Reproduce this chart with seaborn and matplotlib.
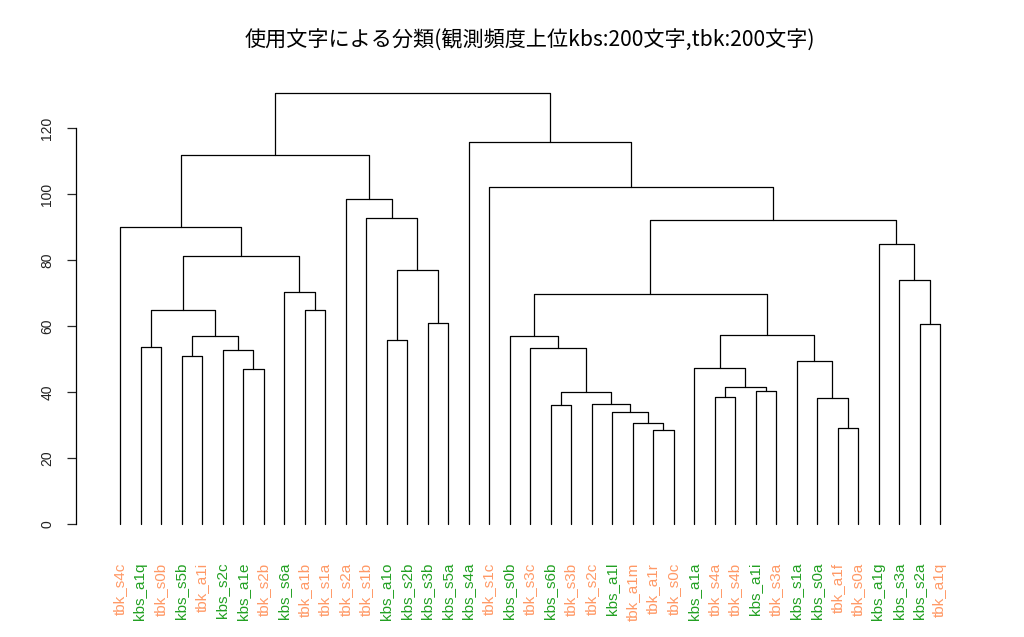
import matplotlib
matplotlib.use("Agg")
import matplotlib.pyplot as plt
import seaborn as sns
import pandas as pd

# ---- data ----
leaves = ["tbk_s4c", "kbs_a1q", "tbk_s0b", "kbs_s5b", "tbk_a1i", "kbs_s2c", "kbs_a1e",
          "tbk_s2b", "kbs_s6a", "tbk_a1b", "tbk_s1a", "tbk_s2a", "tbk_s1b", "kbs_a1o",
          "kbs_s2b", "kbs_s3b", "kbs_s5a", "kbs_s4a", "tbk_s1c", "kbs_s0b", "tbk_s3c",
          "kbs_s6b", "tbk_s3b", "tbk_s2c", "kbs_a1l", "tbk_a1m", "tbk_a1r", "tbk_s0c",
          "kbs_a1a", "tbk_s4a", "tbk_s4b", "kbs_a1i", "tbk_s3a", "kbs_s1a", "kbs_s0a",
          "tbk_a1f", "tbk_s0a", "kbs_a1g", "kbs_s3a", "kbs_s2a", "tbk_a1q"]

merge_left = ["kbs_a1q", "kbs_s5b", "kbs_a1e", "kbs_s2c", "m2", "m1", "tbk_a1b", "kbs_s6a",
              "m6", "tbk_s4c", "kbs_a1o", "kbs_s3b", "m11", "tbk_s1b", "tbk_s2a", "m10",
              "kbs_s6b", "tbk_a1r", "tbk_a1m", "kbs_a1l", "tbk_s2c", "m17", "tbk_s3c",
              "kbs_s0b", "tbk_s4a", "kbs_a1i", "m25", "kbs_a1a", "tbk_a1f", "kbs_s0a",
              "kbs_s1a", "m28", "m24", "kbs_s2a", "kbs_s3a", "kbs_a1g", "m33", "tbk_s1c",
              "kbs_s4a", "m16"]
merge_right = ["tbk_s0b", "tbk_a1i", "tbk_s2b", "m3", "m4", "m5", "tbk_s1a", "m7",
               "m8", "m9", "kbs_s2b", "kbs_s5a", "m12", "m13", "m14", "m15",
               "tbk_s3b", "tbk_s0c", "m18", "m19", "m20", "m21", "m22",
               "m23", "tbk_s4b", "tbk_s3a", "m26", "m27", "tbk_s0a", "m29",
               "m30", "m31", "m32", "tbk_a1q", "m34", "m35", "m36", "m37",
               "m38", "m39"]
merge_height = [53.5, 50.8, 47.0, 52.8, 57.1, 64.8, 64.8, 70.3,
                81.2, 90.1, 55.9, 60.8, 76.9, 92.6, 98.6, 111.8,
                36.1, 28.6, 30.7, 33.9, 36.4, 39.9, 53.4,
                57.0, 38.4, 40.2, 41.6, 47.3, 29.0, 38.2,
                49.4, 57.4, 69.7, 60.5, 73.8, 84.7, 92.1, 102.1,
                115.7, 130.5]

title = "使用文字による分類(観測頻度上位kbs:200文字,tbk:200文字)"
yticks = [0, 20, 40, 60, 80, 100, 120]

# ---- build segments ----
pos = {name: (i + 1, 0.0) for i, name in enumerate(leaves)}
rows = []
for k, (l, r, h) in enumerate(zip(merge_left, merge_right, merge_height), start=1):
    xl, hl = pos[l]
    xr, hr = pos[r]
    for j, (xx, yy) in enumerate([(xl, hl), (xl, h), (xr, h), (xr, hr)]):
        rows.append({"seg": k, "order": j, "x": xx, "y": yy})
    pos[f"m{k}"] = ((xl + xr) / 2, h)
df = pd.DataFrame(rows)

# ---- plot ----
sns.set_style("white")
plt.rcParams["font.family"] = ["Liberation Sans", "Noto Sans CJK JP", "DejaVu Sans"]

W, H = 1024, 637
fig = plt.figure(figsize=(W / 100, H / 100), dpi=100)
ax_l, ax_r, ax_t, ax_b = 76, 984, 75.2, 540.5
ax = fig.add_axes([ax_l / W, (H - ax_b) / H, (ax_r - ax_l) / W, (ax_b - ax_t) / H])

sns.lineplot(data=df, x="x", y="y", units="seg", estimator=None, sort=False,
             color="black", linewidth=0.9, ax=ax, legend=False)

px = 20.5
ax.set_xlim(1 - (120 - ax_l) / px, 41 + (ax_r - 940) / px)
ax.set_ylim(-5.0, 136.0)

for s in ["top", "right", "bottom"]:
    ax.spines[s].set_visible(False)
ax.spines["left"].set_bounds(0, 120)
ax.spines["left"].set_color("black")
ax.spines["left"].set_linewidth(0.9)

ax.set_yticks(yticks)
ax.set_yticklabels([str(v) for v in yticks], rotation=90, va="center",
                   fontsize=10, color="#222222")
ax.tick_params(axis="y", direction="out", length=6.5, width=0.9, pad=9, left=True)

ax.set_xticks(range(1, len(leaves) + 1))
ax.set_xticklabels(leaves, rotation=90, fontsize=11, va="top")
ax.tick_params(axis="x", length=0, pad=16)
for lab in ax.get_xticklabels():
    lab.set_color("#ff9966" if lab.get_text().startswith("tbk") else "#22a022")

ax.set_xlabel("")
ax.set_ylabel("")
fig.text((ax_l + ax_r) / 2 / W, 1 - 41 / H, title, ha="center", va="center",
         fontsize=15.2, family=["Noto Sans CJK JP", "DejaVu Sans"], color="black")

fig.savefig("out.png", dpi=100)
